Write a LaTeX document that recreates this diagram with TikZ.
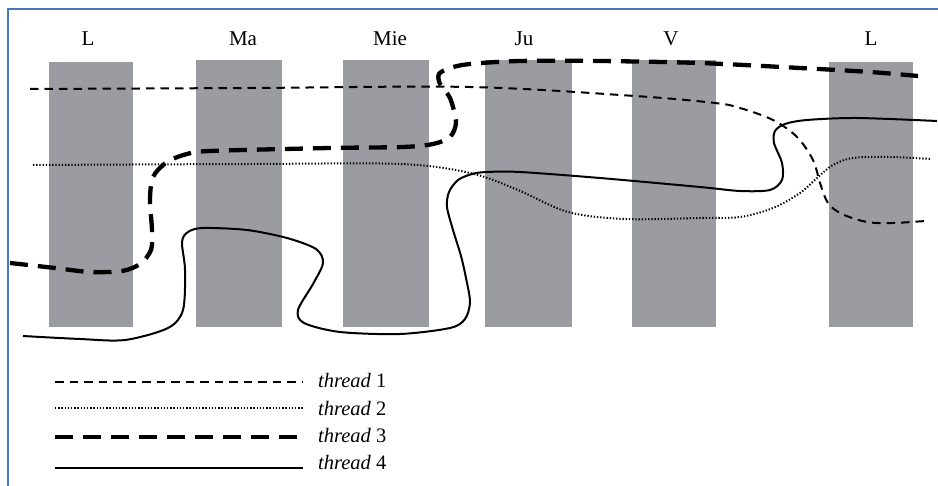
\documentclass[tikz,border=0pt]{standalone}
\usepackage{fontspec}
\setmainfont{Liberation Serif}
\begin{document}
\begin{tikzpicture}[x=1pt,y=-1pt,
  day/.style={fill=barfill,draw=none},
  daylabel/.style={font=\fontsize{21}{23}\selectfont,anchor=base},
  tA/.style={line width=2pt,dash pattern=on 8.5pt off 6pt},
  tB/.style={line width=2pt,dash pattern=on 1.3pt off 1.9pt},
  tC/.style={line width=4.3pt,dash pattern=on 18pt off 10pt},
  tD/.style={line width=2pt},
  legtext/.style={font=\fontsize{20.5}{22}\selectfont,anchor=base west,inner sep=0pt}]
\definecolor{barfill}{HTML}{9A9CA1}
\definecolor{framecol}{HTML}{4677B8}
\useasboundingbox (0,0) rectangle (938,486);
% frame (top and left edges)
\draw[framecol,line width=1.6pt] (8,486) -- (8,9) -- (938,9);
% day columns
\fill[day] (49,62) rectangle (133,327);
\fill[day] (196,60) rectangle (282,327);
\fill[day] (343,60) rectangle (429,327);
\fill[day] (485,60) rectangle (572,327);
\fill[day] (632,60) rectangle (716,327);
\fill[day] (829,62) rectangle (913,327);
% day labels
\node[daylabel] (d1) at (88,46) {L};
\node[daylabel] (d2) at (243,46) {Ma};
\node[daylabel] (d3) at (390,46) {Mie};
\node[daylabel] (d4) at (524,46) {Ju};
\node[daylabel] (d5) at (671,46) {V};
\node[daylabel] (d6) at (871,46) {L};
% thread 1
\draw[tA] plot[smooth,tension=0.55] coordinates {(30,89) (250,88) (470,87) (635,96) (715,103) (740,108) (773,120) (797,137) (813,160) (820,183) (828,203) (842,214) (867,222) (893,223) (925,221)};
% thread 2
\draw[tB] plot[smooth,tension=0.55] coordinates {(33,165) (250,164) (400,164) (470,173) (518,190) (568,212) (625,219) (700,218) (740,217) (773,208) (800,193) (817,178) (833,165) (853,158) (890,157) (931,159)};
% thread 3
\draw[tC] plot[smooth,tension=0.5] coordinates {(10,263) (55,268) (90,272) (122,271) (140,264) (151,250) (152,230) (150,200) (153,177) (167,162) (187,154) (210,151) (330,148) (403,147) (433,144) (450,137) (456,122) (450,98) (440,84) (439,74) (450,68) (470,64) (520,61) (600,61) (700,63) (800,68) (870,72) (918,76)};
% thread 4
\draw[tD] plot[smooth,tension=0.5] coordinates {(23,336) (80,339) (125,340) (168,328) (183,310) (185,270) (182,242) (188,232) (203,228) (247,230) (287,238) (316,249) (323,263) (313,284) (298,310) (304,323) (340,332) (400,334) (450,328) (465,319) (470,302) (466,278) (461,256) (453,230) (447,207) (449,192) (458,180) (472,174) (487,172) (520,172) (600,178) (700,187) (740,191) (770,190) (782,180) (782,163) (774,143) (775,131) (785,124) (807,120) (857,118) (937,121)};
% legend
\coordinate (l1a) at (55,382); \coordinate (l1b) at (303,382);
\coordinate (l2a) at (55,408); \coordinate (l2b) at (303,408);
\coordinate (l3a) at (55,437); \coordinate (l3b) at (297,437);
\coordinate (l4a) at (55,468); \coordinate (l4b) at (303,468);
\draw[tA] (l1a) -- (l1b);
\draw[tB] (l2a) -- (l2b);
\draw[tC] (l3a) -- (l3b);
\draw[tD] (l4a) -- (l4b);
\node[legtext] (k1) at (318,388) {\textit{thread} 1};
\node[legtext] (k2) at (318,416) {\textit{thread} 2};
\node[legtext] (k3) at (318,443) {\textit{thread} 3};
\node[legtext] (k4) at (318,470) {\textit{thread} 4};
\end{tikzpicture}
\end{document}
